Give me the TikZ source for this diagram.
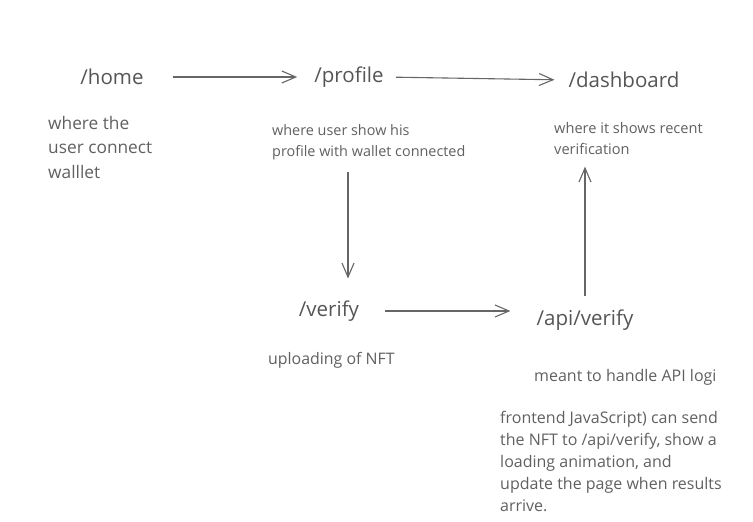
\documentclass[tikz,border=0pt]{standalone}
\usepackage{fontspec}
\setmainfont{Open Sans}
\usepackage{xcolor}
\usetikzlibrary{arrows.meta}
\definecolor{ink}{HTML}{555555}
\definecolor{note}{HTML}{606060}
\tikzset{
  route/.style={inner sep=0pt, text=ink, font=\fontsize{20.5}{24}\selectfont},
  desc/.style={inner sep=0pt, anchor=north west, align=left, text=note},
  arr/.style={draw=ink!90, line width=1.1pt, -{Straight Barb[length=14pt, width=12pt]}}}

\begin{document}
\begin{tikzpicture}[x=1pt, y=-1pt]
  \useasboundingbox (0,0) rectangle (753,522);
  % routes
  \node[route] (home) at (112,77) {/home};
  \node[route] (profile) at (349,77) {/profile};
  \node[route] (dash) at (624,80) {/dashboard};
  \node[route] (verify) at (329,311) {/verify};
  \node[route] (api) at (585,320) {/api/verify};
  % notes under each route
  \node[desc, font=\fontsize{17.3}{24.5}\selectfont] (homedesc) at (48,116) {where the\\user connect\\walllet};
  \node[desc, font=\fontsize{14.4}{21}\selectfont] (profdesc) at (272,124) {where user show his\\profile with wallet connected};
  \node[desc, font=\fontsize{14.6}{21}\selectfont] (dashdesc) at (554,122) {where it shows recent\\verification};
  \node[desc, font=\fontsize{15.9}{22}\selectfont] (verdesc) at (268,352) {uploading of NFT};
  \node[desc, font=\fontsize{16}{22}\selectfont] (apidesc) at (534,369) {meant to handle API logi};
  \node[desc, font=\fontsize{16}{22}\selectfont] (jsdesc) at (500,411) {frontend JavaScript) can send\\the NFT to /api/verify, show a\\loading animation, and\\update the page when results\\arrive.};
  % flow
  \draw[arr, shorten <=29pt, shorten >=17pt] (home.east) -- (profile.west);
  \draw[arr, shorten <=12pt, shorten >=14pt] (profile.east) -- (dash.west);
  \draw[arr, shorten <=12pt, shorten >=22pt] (profdesc.south -| 348,0) -- (verify.north -| 348,0);
  \draw[arr, shorten <=26pt, shorten >=26pt] (verify.east) -- (api.west |- verify.east);
  \draw[arr, shorten <=13pt, shorten >=12pt] (api.north) -- (api.north |- dashdesc.south);
\end{tikzpicture}
\end{document}
